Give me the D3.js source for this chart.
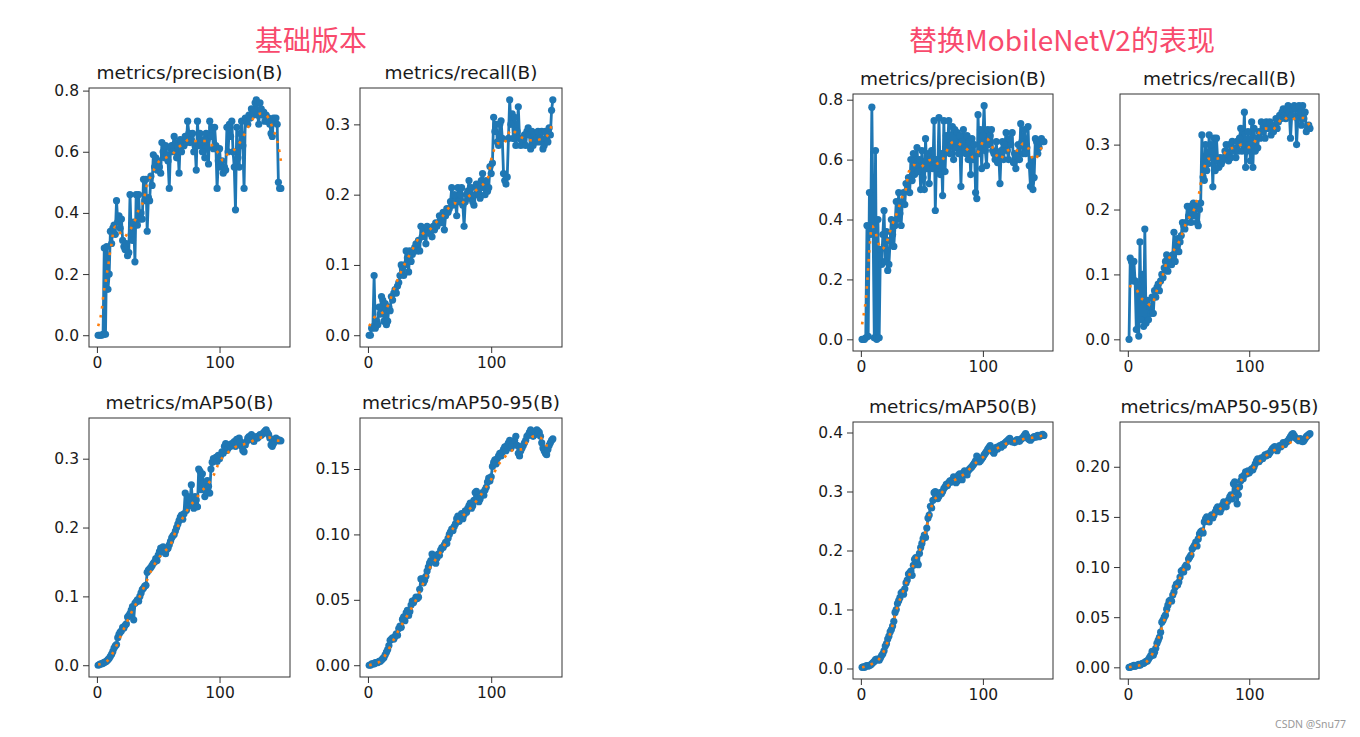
<!DOCTYPE html>
<html>
<head>
<meta charset="utf-8">
<script src="https://cdn.jsdelivr.net/npm/d3@7"></script>
<style>
  body { margin: 0; background: #fff; }
  svg { display: block; font-family: "DejaVu Sans", sans-serif; }
</style>
</head>
<body>
<svg id="chart" width="1360" height="737"></svg>
<script>
// epochs 1..150
const epochs = d3.range(1, 151);

// ---- 基础版本 ----
const precisionBase = [
  0,0,0,0,0.003,0.285,0.003,0.29,0.15,0.2,
  0.34,0.30,0.35,0.36,0.33,0.44,0.37,0.39,0.35,0.38,
  0.31,0.29,0.28,0.30,0.26,0.27,0.46,0.33,0.31,0.37,
  0.24,0.46,0.36,0.46,0.38,0.40,0.38,0.51,0.44,0.51,
  0.34,0.45,0.44,0.52,0.49,0.59,0.55,0.58,0.54,0.57,
  0.55,0.53,0.63,0.60,0.58,0.62,0.59,0.57,0.48,0.61,
  0.62,0.60,0.65,0.63,0.58,0.62,0.53,0.64,0.60,0.63,
  0.62,0.65,0.63,0.70,0.66,0.63,0.64,0.66,0.60,0.62,
  0.54,0.70,0.62,0.66,0.63,0.60,0.64,0.58,0.66,0.64,
  0.56,0.70,0.65,0.68,0.61,0.68,0.62,0.48,0.57,0.61,
  0.55,0.57,0.53,0.55,0.54,0.68,0.60,0.69,0.65,0.70,
  0.60,0.55,0.41,0.68,0.58,0.55,0.66,0.70,0.62,0.48,
  0.71,0.70,0.69,0.72,0.71,0.74,0.72,0.73,0.76,0.77,
  0.72,0.69,0.76,0.74,0.72,0.73,0.70,0.72,0.70,0.71,
  0.69,0.66,0.65,0.71,0.70,0.71,0.69,0.50,0.48,0.48
];
const precisionBaseSmooth = [
  [1,0.03],[3,0.06],[4,0.085],[5.5,0.14],[7,0.17],[8,0.2],[9,0.22],[10,0.25],[11,0.28],
  [12,0.30],[13,0.33],[15,0.355],[18,0.34],[22,0.32],[26,0.34],[30,0.365],[34,0.41],
  [38,0.44],[41,0.495],[44,0.52],[47,0.545],[51,0.57],[56,0.58],[62,0.594],[67,0.616],
  [71,0.627],[75,0.64],[80,0.635],[85,0.635],[90,0.635],[95,0.615],[100,0.59],[103,0.57],
  [106,0.59],[110,0.60],[114,0.615],[118,0.64],[122,0.67],[126,0.70],[130,0.72],[134,0.725],
  [138,0.72],[141,0.70],[144,0.67],[146,0.65],[148,0.62],[150,0.57]
];

const recallBase = [
  0,0,0.01,0.012,0.085,0.01,0.02,0.015,0.04,0.03,
  0.055,0.05,0.02,0.045,0.015,0.02,0.04,0.035,0.055,0.05,
  0.06,0.065,0.06,0.07,0.075,0.085,0.10,0.095,0.085,0.10,
  0.12,0.11,0.09,0.12,0.105,0.115,0.12,0.125,0.13,0.12,
  0.135,0.12,0.155,0.14,0.15,0.145,0.13,0.155,0.15,0.145,
  0.15,0.14,0.155,0.15,0.16,0.155,0.16,0.17,0.165,0.16,
  0.175,0.15,0.17,0.18,0.175,0.18,0.19,0.21,0.185,0.20,
  0.19,0.17,0.21,0.19,0.20,0.21,0.185,0.155,0.19,0.20,
  0.205,0.22,0.195,0.21,0.19,0.185,0.20,0.215,0.21,0.20,
  0.195,0.22,0.23,0.21,0.20,0.22,0.205,0.21,0.24,0.23,
  0.245,0.31,0.29,0.30,0.275,0.27,0.30,0.305,0.28,0.23,
  0.22,0.215,0.225,0.28,0.335,0.30,0.315,0.28,0.31,0.27,
  0.29,0.325,0.28,0.27,0.28,0.275,0.285,0.27,0.29,0.295,
  0.285,0.265,0.29,0.27,0.285,0.275,0.28,0.29,0.275,0.28,
  0.29,0.265,0.27,0.29,0.28,0.275,0.295,0.285,0.32,0.335
];
const recallBaseSmooth = [
  [1,0.013],[5,0.025],[10,0.03],[15,0.038],[18,0.05],[22,0.07],[25,0.083],[28,0.095],
  [31,0.105],[34,0.115],[37,0.125],[40,0.135],[45,0.145],[50,0.15],[55,0.16],[60,0.168],
  [65,0.18],[70,0.188],[75,0.186],[80,0.195],[85,0.202],[90,0.21],[95,0.218],[98,0.228],
  [100,0.25],[102,0.262],[105,0.273],[110,0.272],[113,0.282],[116,0.293],[120,0.288],
  [125,0.281],[130,0.278],[135,0.277],[140,0.279],[145,0.283],[148,0.293],[150,0.305]
];

const map50Base = [
  0.000,0.001,0.002,0.002,0.003,0.004,0.005,0.006,0.008,0.010,
  0.013,0.016,0.020,0.025,0.028,0.030,0.040,0.045,0.048,0.050,
  0.055,0.054,0.058,0.060,0.070,0.072,0.075,0.080,0.085,0.066,
  0.090,0.092,0.095,0.093,0.100,0.105,0.110,0.112,0.115,0.116,
  0.135,0.138,0.140,0.142,0.145,0.148,0.150,0.155,0.152,0.160,
  0.165,0.170,0.168,0.172,0.165,0.162,0.168,0.170,0.175,0.180,
  0.185,0.188,0.190,0.195,0.200,0.205,0.210,0.215,0.218,0.212,
  0.220,0.250,0.225,0.245,0.232,0.240,0.262,0.235,0.228,0.245,
  0.240,0.230,0.285,0.282,0.255,0.278,0.265,0.245,0.252,0.268,
  0.260,0.250,0.285,0.295,0.300,0.298,0.302,0.296,0.305,0.300,
  0.305,0.310,0.308,0.318,0.322,0.312,0.315,0.320,0.318,0.322,
  0.320,0.325,0.318,0.328,0.322,0.330,0.325,0.318,0.312,0.310,
  0.320,0.325,0.330,0.332,0.328,0.335,0.330,0.325,0.330,0.332,
  0.330,0.332,0.335,0.334,0.336,0.338,0.340,0.342,0.338,0.335,
  0.330,0.320,0.318,0.322,0.326,0.330,0.328,0.326,0.327,0.326
];
const map50BaseSmooth = [
  [1,0.001],[5,0.003],[10,0.009],[15,0.025],[20,0.045],[25,0.065],[30,0.083],[35,0.1],
  [40,0.12],[45,0.14],[50,0.155],[55,0.165],[60,0.175],[65,0.198],[70,0.214],[75,0.229],
  [80,0.24],[85,0.252],[90,0.262],[95,0.275],[100,0.296],[105,0.306],[110,0.313],
  [115,0.319],[120,0.321],[125,0.324],[130,0.329],[135,0.331],[140,0.331],[145,0.327],[150,0.326]
];

const map5095Base = [
  0.000,0.000,0.001,0.001,0.001,0.002,0.002,0.002,0.003,0.003,
  0.004,0.005,0.006,0.008,0.010,0.012,0.015,0.019,0.020,0.021,
  0.020,0.022,0.024,0.023,0.028,0.030,0.029,0.035,0.037,0.034,
  0.040,0.042,0.038,0.041,0.046,0.049,0.048,0.050,0.052,0.051,
  0.052,0.058,0.066,0.066,0.063,0.065,0.068,0.072,0.075,0.078,
  0.080,0.085,0.083,0.080,0.078,0.082,0.085,0.084,0.088,0.090,
  0.090,0.092,0.094,0.093,0.097,0.100,0.102,0.104,0.103,0.106,
  0.108,0.112,0.114,0.110,0.113,0.116,0.112,0.115,0.118,0.117,
  0.120,0.122,0.124,0.120,0.122,0.126,0.132,0.133,0.128,0.125,
  0.127,0.130,0.132,0.130,0.134,0.136,0.140,0.143,0.141,0.144,
  0.152,0.155,0.157,0.154,0.158,0.160,0.162,0.160,0.163,0.165,
  0.167,0.164,0.168,0.170,0.172,0.166,0.168,0.170,0.172,0.175,
  0.168,0.162,0.160,0.164,0.166,0.168,0.170,0.172,0.175,0.176,
  0.178,0.180,0.178,0.175,0.176,0.178,0.180,0.179,0.178,0.175,
  0.170,0.166,0.164,0.162,0.161,0.165,0.168,0.170,0.172,0.173
];
const map5095BaseSmooth = [
  [1,0.0],[5,0.001],[10,0.003],[15,0.009],[20,0.018],[25,0.027],[30,0.035],[35,0.043],
  [40,0.052],[45,0.063],[50,0.074],[55,0.081],[60,0.088],[65,0.098],[70,0.106],[75,0.112],
  [80,0.117],[85,0.122],[90,0.128],[95,0.135],[100,0.142],[105,0.152],[110,0.158],
  [115,0.163],[120,0.165],[125,0.165],[130,0.172],[135,0.175],[140,0.174],[145,0.168],[150,0.168]
];

// ---- 替换MobileNetV2 ----
const precisionMobile = [
  0,0,0,0.005,0.38,0.01,0.49,0.35,0.775,0.38,
  0.005,0.63,0.0,0.40,0.005,0.30,0.25,0.35,0.43,0.26,
  0.36,0.23,0.25,0.33,0.40,0.35,0.31,0.38,0.46,0.40,
  0.49,0.42,0.38,0.46,0.49,0.45,0.52,0.50,0.54,0.49,
  0.60,0.53,0.62,0.55,0.58,0.64,0.56,0.60,0.50,0.63,
  0.54,0.50,0.67,0.57,0.62,0.52,0.60,0.63,0.57,0.73,
  0.43,0.60,0.56,0.74,0.55,0.62,0.48,0.73,0.56,0.68,
  0.63,0.73,0.62,0.65,0.71,0.60,0.70,0.64,0.69,0.62,
  0.68,0.51,0.66,0.70,0.64,0.62,0.68,0.60,0.66,0.55,
  0.67,0.60,0.65,0.49,0.47,0.75,0.62,0.70,0.57,0.68,
  0.78,0.63,0.58,0.70,0.65,0.68,0.70,0.63,0.62,0.60,
  0.66,0.59,0.62,0.52,0.63,0.66,0.60,0.65,0.69,0.63,
  0.60,0.67,0.65,0.69,0.59,0.62,0.57,0.61,0.65,0.60,
  0.72,0.66,0.62,0.70,0.62,0.64,0.71,0.58,0.51,0.60,
  0.50,0.54,0.67,0.66,0.62,0.64,0.66,0.67,0.66,0.66
];
const precisionMobileSmooth = [
  [1,0.05],[2,0.075],[3,0.10],[4,0.13],[5,0.18],[6,0.24],[7,0.30],[8,0.35],[9,0.378],
  [12,0.357],[14,0.327],[17,0.30],[21,0.323],[25,0.375],[30,0.427],[34,0.476],[37,0.504],
  [39,0.556],[43,0.582],[49,0.576],[54,0.593],[58,0.60],[64,0.585],[68,0.607],[71,0.634],
  [76,0.66],[83,0.646],[88,0.63],[92,0.607],[97,0.632],[100,0.66],[103,0.67],[107,0.648],
  [110,0.623],[114,0.60],[118,0.623],[123,0.634],[129,0.63],[133,0.654],[137,0.64],
  [140,0.61],[143,0.598],[146,0.626],[150,0.648]
];

const recallMobile = [
  0.0,0.125,0.12,0.09,0.12,0.09,0.015,0.085,0.005,0.15,
  0.03,0.10,0.02,0.17,0.025,0.06,0.03,0.05,0.04,0.065,
  0.04,0.075,0.065,0.08,0.085,0.075,0.09,0.10,0.095,0.11,
  0.12,0.13,0.105,0.12,0.125,0.115,0.13,0.165,0.12,0.14,
  0.155,0.135,0.15,0.16,0.18,0.175,0.17,0.18,0.205,0.19,
  0.205,0.18,0.195,0.21,0.19,0.205,0.18,0.175,0.20,0.21,
  0.315,0.25,0.245,0.30,0.26,0.27,0.315,0.28,0.30,0.235,
  0.31,0.26,0.31,0.275,0.265,0.28,0.27,0.275,0.28,0.29,
  0.30,0.285,0.275,0.30,0.28,0.305,0.29,0.295,0.28,0.305,
  0.29,0.31,0.325,0.29,0.30,0.35,0.265,0.29,0.32,0.30,
  0.275,0.335,0.265,0.325,0.29,0.31,0.295,0.32,0.31,0.335,
  0.32,0.33,0.31,0.335,0.325,0.33,0.335,0.315,0.325,0.32,
  0.33,0.34,0.325,0.335,0.345,0.34,0.35,0.355,0.345,0.34,
  0.355,0.36,0.35,0.31,0.345,0.355,0.36,0.355,0.30,0.34,
  0.36,0.35,0.33,0.36,0.34,0.35,0.32,0.325,0.33,0.325
];
const recallMobileSmooth = [
  [1,0.082],[7,0.077],[10,0.066],[15,0.058],[19,0.052],[22,0.063],[24,0.076],[27,0.087],
  [29,0.10],[31,0.113],[34,0.125],[37,0.135],[41,0.146],[44,0.158],[46,0.17],[48,0.179],
  [52,0.192],[55,0.202],[57,0.215],[59,0.228],[60,0.24],[61,0.253],[63,0.265],[66,0.278],
  [72,0.278],[78,0.283],[82,0.292],[89,0.296],[94,0.30],[100,0.296],[105,0.306],[108,0.318],
  [113,0.325],[119,0.323],[124,0.333],[128,0.343],[133,0.337],[139,0.341],[145,0.341],[150,0.328]
];

const map50Mobile = [
  0.002,0.003,0.002,0.004,0.005,0.004,0.005,0.006,0.008,0.010,
  0.012,0.015,0.016,0.015,0.014,0.018,0.022,0.025,0.030,0.038,
  0.042,0.050,0.055,0.062,0.066,0.072,0.080,0.095,0.100,0.110,
  0.115,0.120,0.128,0.130,0.126,0.135,0.145,0.150,0.160,0.162,
  0.165,0.158,0.175,0.185,0.188,0.180,0.176,0.195,0.205,0.212,
  0.220,0.226,0.222,0.238,0.255,0.260,0.275,0.272,0.285,0.298,
  0.300,0.295,0.288,0.292,0.298,0.296,0.300,0.305,0.308,0.312,
  0.310,0.315,0.318,0.316,0.320,0.325,0.322,0.315,0.318,0.328,
  0.330,0.325,0.320,0.332,0.335,0.330,0.328,0.335,0.338,0.340,
  0.342,0.345,0.348,0.352,0.360,0.355,0.350,0.352,0.355,0.358,
  0.362,0.365,0.368,0.372,0.375,0.378,0.372,0.368,0.365,0.370,
  0.375,0.372,0.376,0.378,0.375,0.380,0.378,0.382,0.384,0.386,
  0.388,0.390,0.386,0.384,0.385,0.383,0.386,0.388,0.387,0.385,
  0.388,0.390,0.392,0.395,0.398,0.394,0.390,0.388,0.387,0.390,
  0.391,0.393,0.392,0.394,0.395,0.393,0.394,0.396,0.397,0.395
];
const map50MobileSmooth = [
  [1,0.002],[5,0.004],[10,0.009],[15,0.016],[20,0.035],[25,0.066],[30,0.105],[35,0.133],
  [40,0.16],[45,0.185],[50,0.21],[55,0.25],[58,0.275],[60,0.285],[65,0.295],[70,0.307],
  [75,0.317],[80,0.323],[85,0.33],[90,0.34],[95,0.35],[100,0.358],[105,0.368],[110,0.372],
  [115,0.376],[120,0.382],[125,0.385],[130,0.387],[135,0.39],[140,0.391],[145,0.393],[150,0.395]
];

const map5095Mobile = [
  0.000,0.000,0.001,0.001,0.002,0.001,0.002,0.002,0.003,0.002,
  0.003,0.004,0.004,0.005,0.006,0.006,0.008,0.010,0.012,0.016,
  0.012,0.015,0.019,0.024,0.027,0.030,0.035,0.045,0.047,0.050,
  0.052,0.058,0.062,0.066,0.067,0.066,0.072,0.075,0.080,0.083,
  0.082,0.085,0.090,0.096,0.097,0.095,0.100,0.102,0.100,0.108,
  0.110,0.112,0.118,0.120,0.122,0.125,0.121,0.128,0.133,0.135,
  0.136,0.134,0.145,0.148,0.150,0.147,0.145,0.150,0.152,0.149,
  0.152,0.155,0.158,0.160,0.156,0.155,0.158,0.162,0.165,0.163,
  0.160,0.165,0.167,0.170,0.172,0.168,0.183,0.185,0.175,0.163,
  0.172,0.180,0.186,0.190,0.188,0.192,0.195,0.193,0.196,0.194,
  0.196,0.198,0.197,0.200,0.203,0.206,0.208,0.205,0.207,0.209,
  0.208,0.210,0.212,0.211,0.213,0.212,0.214,0.216,0.218,0.219,
  0.220,0.218,0.216,0.219,0.221,0.220,0.222,0.224,0.222,0.224,
  0.225,0.226,0.228,0.230,0.232,0.233,0.231,0.229,0.228,0.227,
  0.226,0.228,0.227,0.225,0.226,0.228,0.230,0.231,0.232,0.233
];
const map5095MobileSmooth = [
  [1,0.0],[5,0.001],[10,0.002],[15,0.005],[20,0.013],[25,0.028],[30,0.047],[35,0.065],
  [40,0.08],[45,0.095],[50,0.106],[55,0.12],[60,0.133],[65,0.143],[70,0.151],[75,0.157],
  [80,0.162],[85,0.17],[90,0.177],[95,0.19],[100,0.194],[105,0.201],[110,0.207],[115,0.212],
  [120,0.216],[125,0.219],[130,0.221],[135,0.225],[140,0.228],[145,0.228],[150,0.231]
];

const panels = [
  { title: "metrics/precision(B)", values: precisionBase, smooth: precisionBaseSmooth, x: 89, y: 88, w: 201, h: 259 },
  { title: "metrics/recall(B)", values: recallBase, smooth: recallBaseSmooth, x: 360, y: 88, w: 202, h: 259 },
  { title: "metrics/mAP50(B)", values: map50Base, smooth: map50BaseSmooth, x: 89, y: 418, w: 201, h: 259 },
  { title: "metrics/mAP50-95(B)", values: map5095Base, smooth: map5095BaseSmooth, x: 360, y: 418, w: 202, h: 259 },
  { title: "metrics/precision(B)", values: precisionMobile, smooth: precisionMobileSmooth, x: 853, y: 94, w: 200, h: 257 },
  { title: "metrics/recall(B)", values: recallMobile, smooth: recallMobileSmooth, x: 1120, y: 94, w: 199, h: 257 },
  { title: "metrics/mAP50(B)", values: map50Mobile, smooth: map50MobileSmooth, x: 853, y: 422, w: 200, h: 257 },
  { title: "metrics/mAP50-95(B)", values: map5095Mobile, smooth: map5095MobileSmooth, x: 1120, y: 422, w: 199, h: 257 }
];

const BLUE = "#1f77b4";
const ORANGE = "#ff7f0e";
const svg = d3.select("#chart");

// figure titles
svg.append("text")
  .attr("x", 311).attr("y", 51)
  .attr("text-anchor", "middle")
  .style("font-family", "'Noto Sans CJK SC', sans-serif")
  .style("font-size", "28px")
  .attr("fill", "#f84a6d")
  .text("基础版本");
svg.append("text")
  .attr("x", 1062).attr("y", 51)
  .attr("text-anchor", "middle")
  .style("font-family", "'Noto Sans CJK SC', sans-serif")
  .style("font-size", "28px")
  .attr("fill", "#f84a6d")
  .text("替换MobileNetV2的表现");

panels.forEach(p => {
  const g = svg.append("g").attr("transform", `translate(${p.x},${p.y})`);

  // matplotlib style 5% margins
  const xPad = 0.05 * (d3.max(epochs) - d3.min(epochs));
  const xScale = d3.scaleLinear()
    .domain([d3.min(epochs) - xPad, d3.max(epochs) + xPad])
    .range([0, p.w]);

  const allY = p.values.concat(p.smooth.map(d => d[1]));
  const yMin = d3.min(allY), yMax = d3.max(allY);
  const yPad = 0.05 * (yMax - yMin);
  const yScale = d3.scaleLinear()
    .domain([yMin - yPad, yMax + yPad])
    .range([p.h, 0]);

  const yTicks = yScale.ticks(5);
  const step = yTicks[1] - yTicks[0];
  const yFmt = d3.format(`.${d3.precisionFixed(step)}f`);

  const clipId = "clip" + p.x + "_" + p.y;
  g.append("clipPath").attr("id", clipId)
    .append("rect").attr("width", p.w).attr("height", p.h);

  const plot = g.append("g").attr("clip-path", `url(#${clipId})`);

  const line = d3.line()
    .x((d, i) => xScale(epochs[i]))
    .y(d => yScale(d));

  plot.append("path")
    .datum(p.values)
    .attr("fill", "none")
    .attr("stroke", BLUE)
    .attr("stroke-width", 2.8)
    .attr("stroke-linejoin", "round")
    .attr("d", line);

  plot.selectAll("circle")
    .data(p.values)
    .join("circle")
      .attr("cx", (d, i) => xScale(epochs[i]))
      .attr("cy", d => yScale(d))
      .attr("r", 3.6)
      .attr("fill", BLUE);

  const smoothLine = d3.line()
    .x(d => xScale(d[0]))
    .y(d => yScale(d[1]))
    .curve(d3.curveMonotoneX);

  plot.append("path")
    .datum(p.smooth)
    .attr("fill", "none")
    .attr("stroke", ORANGE)
    .attr("stroke-width", 2.6)
    .attr("stroke-dasharray", "2.6,6.4")
    .attr("d", smoothLine);

  // axes
  const yAxis = d3.axisLeft(yScale)
    .tickValues(yTicks)
    .tickFormat(yFmt)
    .tickSize(6)
    .tickPadding(4);
  const xAxis = d3.axisBottom(xScale)
    .tickValues([0, 100])
    .tickSize(6)
    .tickPadding(4);

  const ya = g.append("g").call(yAxis);
  const xa = g.append("g").attr("transform", `translate(0,${p.h})`).call(xAxis);
  [ya, xa].forEach(a => {
    a.select(".domain").remove();
    a.selectAll("line").attr("stroke", "#333").attr("stroke-width", 1);
    a.selectAll("text")
      .attr("fill", "#1a1a1a")
      .style("font-family", "'DejaVu Sans', sans-serif")
      .style("font-size", "15.5px");
  });

  g.append("rect")
    .attr("width", p.w).attr("height", p.h)
    .attr("fill", "none")
    .attr("stroke", "#333")
    .attr("stroke-width", 1);

  g.append("text")
    .attr("x", p.w / 2).attr("y", -9)
    .attr("text-anchor", "middle")
    .attr("fill", "#1a1a1a")
    .style("font-size", "18.5px")
    .text(p.title);
});

// watermark
svg.append("text")
  .attr("x", 1346).attr("y", 728)
  .attr("text-anchor", "end")
  .attr("fill", "#999")
  .style("font-family", "'Noto Sans', sans-serif")
  .style("font-size", "10.5px")
  .text("CSDN @Snu77");
</script>
</body>
</html>
